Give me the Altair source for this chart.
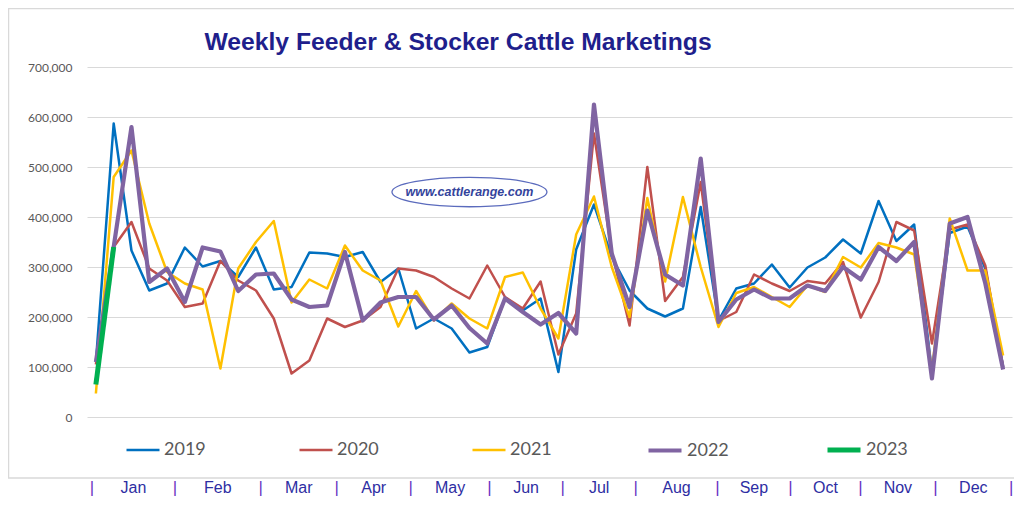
import altair as alt
import pandas as pd

years = ["2019", "2020", "2021", "2022", "2023"]
colors = ["#0070C0", "#C0504D", "#FFC000", "#8064A2", "#00B050"]
widths = [2.5, 2.5, 2.5, 4.2, 5]

v2019 = [110, 587, 333, 253, 267, 339, 301, 312, 280, 339, 255, 260, 329, 327, 320, 330, 270, 297, 177, 197,
         177, 129, 140, 237, 213, 237, 90, 335, 425, 320, 253, 217, 201, 217, 420, 193, 257, 267, 305, 259,
         299, 319, 355, 327, 432, 352, 385, 90, 368, 381, 297, 100]
v2020 = [105, 340, 390, 297, 273, 220, 227, 312, 273, 253, 197, 87, 113, 197, 180, 193, 220, 297, 293, 280,
         257, 237, 303, 240, 217, 271, 125, 207, 567, 330, 183, 500, 232, 280, 470, 192, 210, 285, 267, 252,
         272, 267, 310, 199, 270, 390, 373, 147, 375, 385, 303, 100]
v2021 = [47, 480, 533, 387, 290, 267, 255, 97, 297, 350, 392, 229, 275, 257, 343, 293, 273, 181, 252, 193,
         227, 197, 177, 280, 289, 217, 157, 365, 441, 300, 200, 438, 271, 440, 300, 180, 248, 260, 240, 220,
         263, 250, 320, 299, 348, 339, 325, 93, 397, 293, 293, 123]
v2022 = [110, 340, 580, 270, 297, 230, 339, 331, 252, 285, 287, 235, 220, 223, 330, 193, 229, 240, 240, 195,
         223, 178, 147, 237, 210, 185, 208, 167, 625, 327, 220, 413, 285, 263, 517, 190, 235, 255, 237, 237,
         263, 252, 300, 275, 340, 312, 350, 77, 387, 400, 267, 95]
v2023 = [65, 340]

months = ["Jan", "Feb", "Mar", "Apr", "May", "Jun", "Jul", "Aug", "Sep", "Oct", "Nov", "Dec"]
# month separator positions, in week units
month_edges = [-0.22, 4.44, 9.27, 13.54, 17.70, 22.13, 26.24, 30.34, 34.94, 39.04, 42.98, 47.19, 51.46]

title_text = "Weekly Feeder & Stocker Cattle Marketings"
watermark = "www.cattlerange.com"
y_ticks = [0, 100000, 200000, 300000, 400000, 500000, 600000, 700000]

rows = []
for yr, vals in zip(years, [v2019, v2020, v2021, v2022, v2023]):
    for i, v in enumerate(vals):
        rows.append({"week": i, "year": yr, "value": v * 1000})
df = pd.DataFrame(rows)

xscale = alt.Scale(domain=[-0.5, 51.5], nice=False, zero=False)
yscale = alt.Scale(domain=[0, 700000], nice=False)
yaxis = alt.Axis(values=y_ticks, format=",.0f", grid=True, gridColor="#d9d9d9", gridWidth=1,
                 domain=False, ticks=False, tickSize=0, labelColor="#595959", labelFontSize=12,
                 labelFont="Lato", labelPadding=15, title=None)

border = alt.Chart(pd.DataFrame({"a": [0]})).mark_rect(
    filled=False, stroke="#d9d9d9", strokeWidth=1.5
).encode(x=alt.value(-78.5), x2=alt.value(928), y=alt.value(-58.5), y2=alt.value(411))

lines = alt.Chart(df).mark_line(strokeJoin="round").encode(
    x=alt.X("week:Q", scale=xscale, axis=None),
    y=alt.Y("value:Q", scale=yscale, axis=yaxis),
    color=alt.Color("year:N", scale=alt.Scale(domain=years, range=colors),
                    legend=alt.Legend(orient="none", legendX=38, legendY=364, direction="horizontal",
                                      title=None, symbolType="stroke", symbolSize=1089,
                                      symbolStrokeWidth=3, labelFontSize=18, labelFont="Lato",
                                      labelColor="#595959", columnPadding=88, labelOffset=3)),
    strokeWidth=alt.StrokeWidth("year:N", scale=alt.Scale(type="ordinal", domain=years, range=widths),
                                legend=None),
)

ann = pd.DataFrame({"x": [21.0], "y": [450000], "t": [watermark]})
ellipse = alt.Chart(ann).mark_point(
    shape="M-1,0A1,0.19,0,1,0,1,0A1,0.19,0,1,0,-1,0Z", size=24025, filled=True,
    fill="white", fillOpacity=1, stroke="#5b6bbd", strokeWidth=1.3, opacity=1
).encode(x=alt.X("x:Q", scale=xscale, axis=None), y=alt.Y("y:Q", scale=yscale, axis=yaxis))
wm = alt.Chart(ann).mark_text(
    font="Liberation Sans", fontSize=12.5, fontStyle="italic", fontWeight="bold",
    color="#34449c"
).encode(x=alt.X("x:Q", scale=xscale, axis=None), y=alt.Y("y:Q", scale=yscale, axis=yaxis), text="t:N")

title = alt.Chart(pd.DataFrame({"t": [title_text]})).mark_text(
    font="Liberation Sans", fontSize=24.7, fontWeight="bold", color="#1f1f8c",
    align="center", baseline="alphabetic"
).encode(x=alt.value(371), y=alt.value(-17), text="t:N")

mdf = pd.DataFrame({"m": months,
                    "pos": [(a + b) / 2 for a, b in zip(month_edges[:-1], month_edges[1:])]})
month_text = alt.Chart(mdf).mark_text(
    font="Liberation Sans", fontSize=16, color="#2e2ea3", baseline="middle"
).encode(x=alt.X("pos:Q", scale=xscale, axis=None), y=alt.value(421), text="m:N")

sdf = pd.DataFrame({"pos": month_edges, "s": ["|"] * len(month_edges)})
seps = alt.Chart(sdf).mark_text(
    font="Liberation Sans", fontSize=17, color="#6b35c4", baseline="middle"
).encode(x=alt.X("pos:Q", scale=xscale, axis=None), y=alt.value(421), text="s:N")

chart = alt.layer(border, lines, ellipse, wm, title, month_text, seps).properties(
    width=925, height=350,
    autosize=alt.AutoSizeParams(type="none"),
    padding={"left": 79, "top": 59, "right": 2, "bottom": 80},
    background="white",
).configure_view(stroke=None)

chart.save("out.html", embed_options={"renderer": "svg", "actions": False})
